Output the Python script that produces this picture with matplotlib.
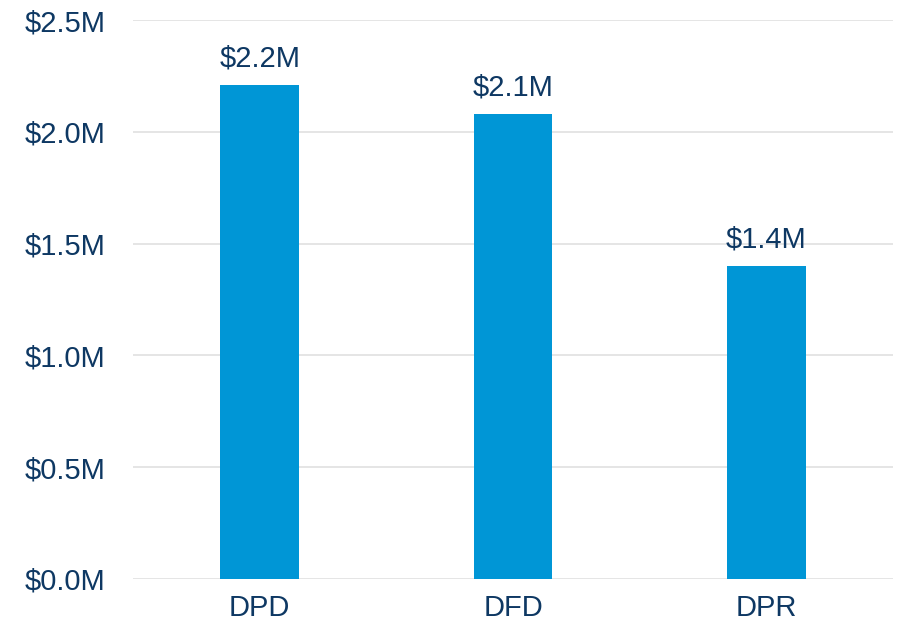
import matplotlib
matplotlib.use('Agg')
from matplotlib import pyplot as plt

# data (in millions)
categories = ['DPD', 'DFD', 'DPR']
values = [2.21, 2.08, 1.40]
labels = ['$2.2M', '$2.1M', '$1.4M']
yticks = [0.0, 0.5, 1.0, 1.5, 2.0, 2.5]

navy = '#0e3863'
blue = '#0096d6'

plt.rcParams['font.family'] = ['Liberation Sans', 'DejaVu Sans']
fig = plt.figure(figsize=(9.01, 6.32), dpi=100)
ax = fig.add_axes([133 / 901, 1 - 579 / 632, 760 / 901, 559 / 632])

x = range(len(categories))
bars = ax.bar(x, values, width=0.31, color=blue, zorder=3)
for b, lab in zip(bars, labels):
    ax.annotate(lab, (b.get_x() + b.get_width() / 2, b.get_height()),
                xytext=(0, 9), textcoords='offset points',
                ha='center', va='bottom', fontsize=21, color=navy)

ax.set_xlim(-0.5, 2.5)
ax.set_ylim(0, 2.5)
ax.set_yticks(yticks)
ax.set_yticklabels(['$%.1fM' % v for v in yticks])
ax.set_xticks(list(x))
ax.set_xticklabels(categories)
ax.tick_params(axis='both', length=0, labelsize=21, labelcolor=navy)
ax.tick_params(axis='y', pad=20)
ax.tick_params(axis='x', pad=11)
ax.grid(axis='y', color='#e0e0e0', linewidth=1.2, zorder=0)
for s in ax.spines.values():
    s.set_visible(False)

plt.savefig('out.png', dpi=100)
